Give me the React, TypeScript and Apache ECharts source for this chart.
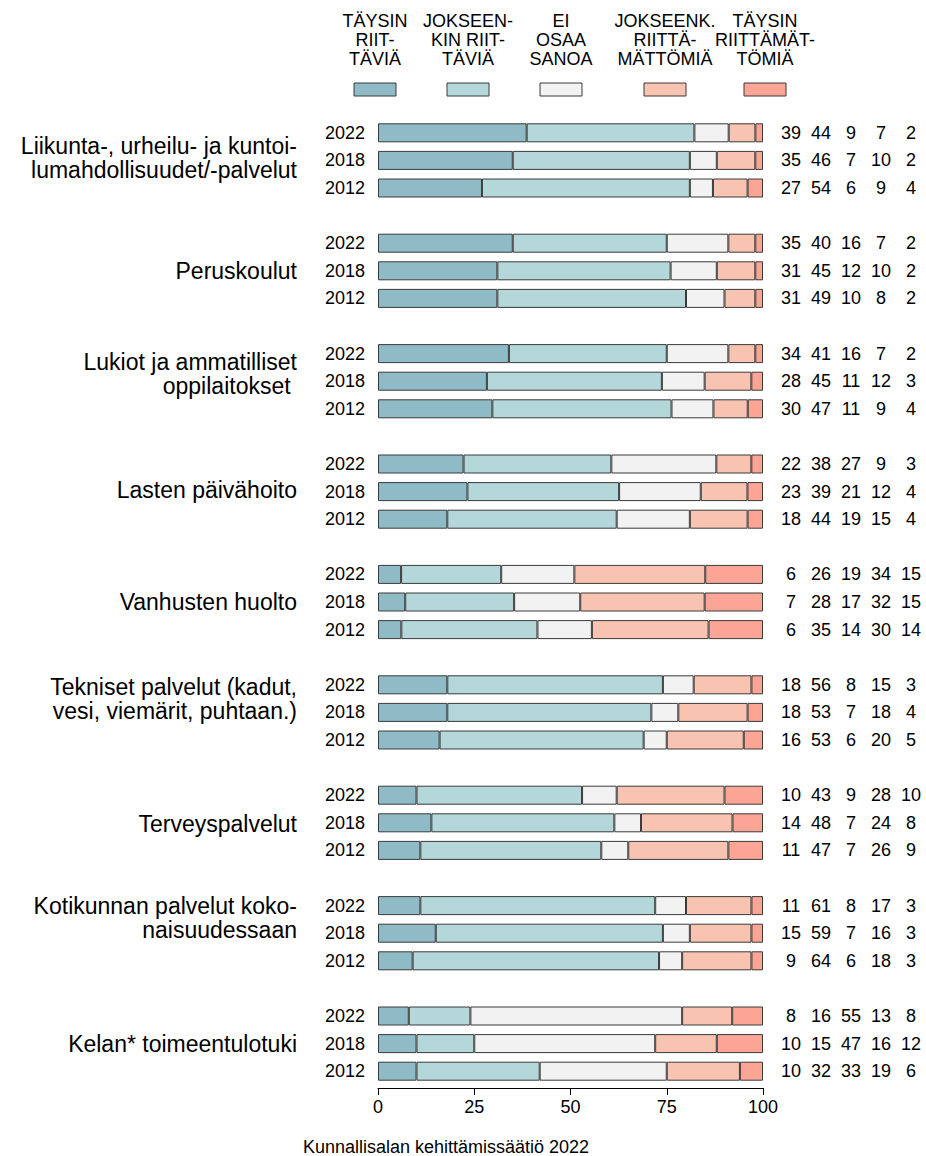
import React, { useEffect, useRef } from "react";
import * as echarts from "echarts";

// ---- data ----
const groupNames = [
  "Liikunta-, urheilu- ja kuntoi-\nlumahdollisuudet/-palvelut",
  "Peruskoulut",
  "Lukiot ja ammatilliset\noppilaitokset ",
  "Lasten päivähoito",
  "Vanhusten huolto",
  "Tekniset palvelut (kadut,\nvesi, viemärit, puhtaan.)",
  "Terveyspalvelut",
  "Kotikunnan palvelut koko-\nnaisuudessaan",
  "Kelan* toimeentulotuki",
];
const years = ["2022", "2018", "2012"];
const responseLabels = [
  "TÄYSIN\nRIIT-\nTÄVIÄ",
  "JOKSEEN-\nKIN RIIT-\nTÄVIÄ",
  "EI\nOSAA\nSANOA",
  "JOKSEENK.\nRIITTÄ-\nMÄTTÖMIÄ",
  "TÄYSIN\nRIITTÄMÄT-\nTÖMIÄ",
];
// rows: 2022, 2018, 2012 ; columns: the five responses (%)
const liikunta = [[39, 44, 9, 7, 2], [35, 46, 7, 10, 2], [27, 54, 6, 9, 4]];
const peruskoulut = [[35, 40, 16, 7, 2], [31, 45, 12, 10, 2], [31, 49, 10, 8, 2]];
const lukiot = [[34, 41, 16, 7, 2], [28, 45, 11, 12, 3], [30, 47, 11, 9, 4]];
const paivahoito = [[22, 38, 27, 9, 3], [23, 39, 21, 12, 4], [18, 44, 19, 15, 4]];
const vanhukset = [[6, 26, 19, 34, 15], [7, 28, 17, 32, 15], [6, 35, 14, 30, 14]];
const tekniset = [[18, 56, 8, 15, 3], [18, 53, 7, 18, 4], [16, 53, 6, 20, 5]];
const terveys = [[10, 43, 9, 28, 10], [14, 48, 7, 24, 8], [11, 47, 7, 26, 9]];
const kotikunta = [[11, 61, 8, 17, 3], [15, 59, 7, 16, 3], [9, 64, 6, 18, 3]];
const kela = [[8, 16, 55, 13, 8], [10, 15, 47, 16, 12], [10, 32, 33, 19, 6]];
const groupValues = [liikunta, peruskoulut, lukiot, paivahoito, vanhukset, tekniset, terveys, kotikunta, kela];
const xTicks = [0, 25, 50, 75, 100];
const caption = "Kunnallisalan kehittämissäätiö 2022";

// ---- styles / layout ----
const colors = ["#8fbbc6", "#b4d7d9", "#f2f2f2", "#f8c4b1", "#fca597"];
const legendCenters = [375, 468, 561, 665, 765];
const groupLabelShift = [-2, 0, -7, -2, 0, -13, 1, -15, 0];
const FONT = "'Liberation Sans', Arial, Helvetica, sans-serif";

type Row = { id: string; g: number; y: number; vals: number[] | null };

export default function App() {
  const ref = useRef<HTMLDivElement>(null);
  useEffect(() => {
    document.body.style.margin = "0";
    if (!ref.current) return;
    const chart = echarts.init(ref.current, undefined, { renderer: "svg" });

    const rows: Row[] = [];
    groupValues.forEach((gv, g) => {
      years.forEach((yr, y) => rows.push({ id: `${g}-${yr}`, g, y, vals: gv[y] }));
      if (g < groupValues.length - 1) rows.push({ id: `gap-${g}`, g, y: -1, vals: null });
    });
    const cats = rows.map((r) => r.id);
    const byId: Record<string, Row> = {};
    rows.forEach((r) => (byId[r.id] = r));

    const series = responseLabels.map((name, k) => ({
      name,
      type: "bar",
      stack: "total",
      barWidth: 19,
      itemStyle: { color: colors[k], borderColor: "#3a3a3a", borderWidth: 1 },
      emphasis: { disabled: true },
      data: rows.map((r) => {
        if (!r.vals) return "-";
        const sum = r.vals.reduce((a, b) => a + b, 0);
        return (r.vals[k] / sum) * 100;
      }),
    }));

    const baseY = {
      type: "category",
      data: cats,
      inverse: true,
      axisLine: { show: false },
      axisTick: { show: false },
      splitLine: { show: false },
    };

    const staticGraphics: any[] = [];
    responseLabels.forEach((lbl, k) => {
      staticGraphics.push({
        type: "text",
        x: legendCenters[k],
        y: 11,
        style: {
          text: lbl,
          fill: "#000",
          font: `18px ${FONT}`,
          align: "center",
          verticalAlign: "top",
          lineHeight: 19,
        },
      });
      staticGraphics.push({
        type: "rect",
        shape: { x: legendCenters[k] - 21, y: 83, width: 42, height: 13 },
        style: { fill: colors[k], stroke: "#3a3a3a", lineWidth: 1 },
      });
    });
    staticGraphics.push({
      type: "text",
      x: 446,
      y: 1138,
      style: { text: caption, fill: "#000", font: `18px ${FONT}`, align: "center", verticalAlign: "top" },
    });

    chart.setOption({
      animation: false,
      textStyle: { fontFamily: FONT },
      grid: { left: 378, right: 163, top: 119, height: 966, containLabel: false },
      xAxis: {
        type: "value",
        min: xTicks[0],
        max: xTicks[xTicks.length - 1],
        interval: xTicks[1] - xTicks[0],
        offset: 3,
        axisLine: { show: true, lineStyle: { color: "#000", width: 1 } },
        axisTick: { show: true, length: 7, lineStyle: { color: "#000" } },
        splitLine: { show: false },
        axisLabel: { fontSize: 18, color: "#000", margin: 10, fontFamily: FONT },
      },
      yAxis: [
        {
          ...baseY,
          position: "left",
          axisLabel: {
            interval: 0,
            margin: 13,
            fontSize: 18,
            color: "#000",
            fontFamily: FONT,
            formatter: (v: string) => (byId[v].y >= 0 ? years[byId[v].y] : ""),
          },
        },
        {
          ...baseY,
          position: "right",
          axisLabel: {
            interval: 0,
            margin: 13,
            align: "left",
            color: "#000",
            fontFamily: FONT,
            formatter: (v: string) => {
              const r = byId[v];
              if (!r.vals) return "";
              return r.vals.map((n) => `{c|${n}}`).join("");
            },
            rich: { c: { width: 30, align: "center", fontSize: 18, color: "#000", fontFamily: FONT } },
          },
        },
      ],
      series,
      graphic: staticGraphics,
    });

    // group labels, placed on the middle (2018) row through the axis scale
    const groupGraphics = groupNames.map((name, g) => {
      const yPix = chart.convertToPixel({ yAxisIndex: 0 }, `${g}-${years[1]}`) as number;
      return {
        type: "text",
        x: 297,
        y: yPix + groupLabelShift[g],
        style: {
          text: name,
          fill: "#000",
          font: `23px ${FONT}`,
          align: "right",
          verticalAlign: "middle",
          lineHeight: 24,
        },
      };
    });
    chart.setOption({ graphic: [...staticGraphics, ...groupGraphics] });

    return () => chart.dispose();
  }, []);
  return <div ref={ref} style={{ width: 926, height: 1156 }} />;
}
